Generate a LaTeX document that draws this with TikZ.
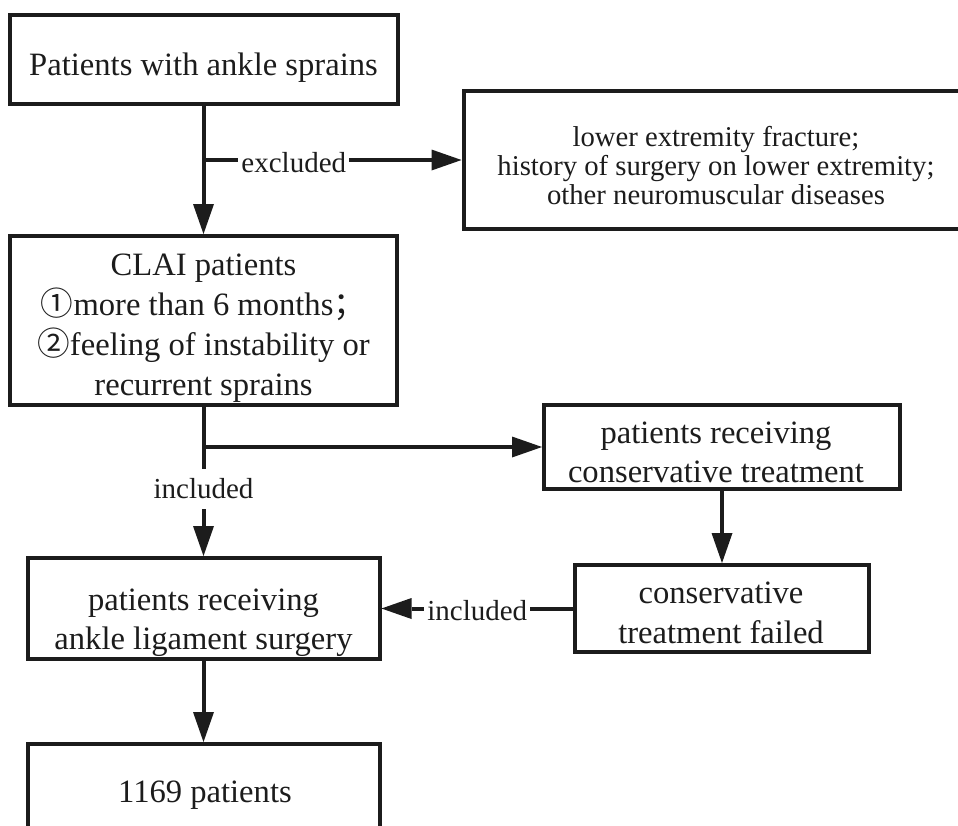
\documentclass[tikz,border=0pt]{standalone}
\usepackage{fontspec}
\setmainfont{Liberation Serif}
\newfontfamily\cjk{Noto Sans CJK SC}
\usetikzlibrary{arrows.meta}
\definecolor{ink}{RGB}{28,28,28}
\setlength{\tabcolsep}{0pt}
\newcommand{\mylines}[1]{\begin{tabular}[t]{@{}c@{}}#1\end{tabular}}
\begin{document}
\begin{tikzpicture}[x=1pt,y=-1pt,
  box/.style={draw=ink,line width=4pt,inner sep=0pt,rectangle},
  txt/.style={inner sep=0pt,anchor=base,text=ink},
  big/.style={font=\fontsize{32.6}{40}\selectfont},
  bigb/.style={font=\fontsize{32.6}{39}\selectfont},
  small/.style={font=\fontsize{28.7}{29}\selectfont},
  lbl/.style={fill=white,inner sep=3pt,text=ink,font=\fontsize{29}{29}\selectfont},
  con/.style={draw=ink,line width=4pt},
  arr/.style={con,-{Triangle[length=30pt,width=21pt,line width=0pt]}}]
\useasboundingbox (0,0) rectangle (958,825);
\clip (0,0) rectangle (958,825);
\fill[white] (0,0) rectangle (958,825);

% boxes
\node[box,minimum width=388pt,minimum height=89pt] (b1) at (203.5,59.5) {};
\node[box,minimum width=505pt,minimum height=138pt] (b2) at (716,160) {};
\node[box,minimum width=387.5pt,minimum height=169pt] (b3) at (203.5,320.5) {};
\node[box,minimum width=356pt,minimum height=84pt] (b4) at (722,447) {};
\node[box,minimum width=294pt,minimum height=87pt] (b5) at (722,608.5) {};
\node[box,minimum width=352pt,minimum height=101pt] (b6) at (203.5,608.5) {};
\node[box,minimum width=352pt,minimum height=160pt] (b7) at (203.5,824) {};

% texts
\node[txt,big] (t1) at (203.5,75) {Patients with ankle sprains};
\node[txt,small] (t2) at (716,146) {\mylines{lower extremity fracture;\\history of surgery on lower extremity;\\other neuromuscular diseases}};
\node[txt,big] (t3) at (203.5,275) {\mylines{CLAI patients\\{\cjk ①}more than 6 months{\cjk ；}\\{\cjk ②}feeling of instability or\\recurrent sprains}};
\node[txt,bigb] (t4) at (716,443) {\mylines{patients receiving\\conservative treatment}};
\node[txt,big] (t5) at (721,603) {\mylines{conservative\\treatment failed}};
\node[txt,bigb] (t6) at (203.5,610) {\mylines{patients receiving\\ankle ligament surgery}};
\node[txt,big] (t7) at (205,802) {1169 patients};

% connectors
\draw[arr] (b1.south) -- (b3.north);
\coordinate (ex) at (b1.south |- b2.west);
\draw[arr] (ex) -- node[lbl,pos=0.35,yshift=-2.6pt] (l1) {excluded} (b2.west);
\draw[arr] (b3.south) -- node[lbl,pos=0.55,inner ysep=10pt] (l2) {included} (b6.north);
\coordinate (br) at (b3.south |- b4.west);
\draw[arr] (br) -- (b4.west);
\draw[arr] (b4.south) -- (b5.north);
\draw[arr] (b5.west) -- node[lbl,pos=0.5,yshift=-2pt] (l3) {included} (b6.east);
\draw[arr] (b6.south) -- (b7.north);
\end{tikzpicture}
\end{document}
